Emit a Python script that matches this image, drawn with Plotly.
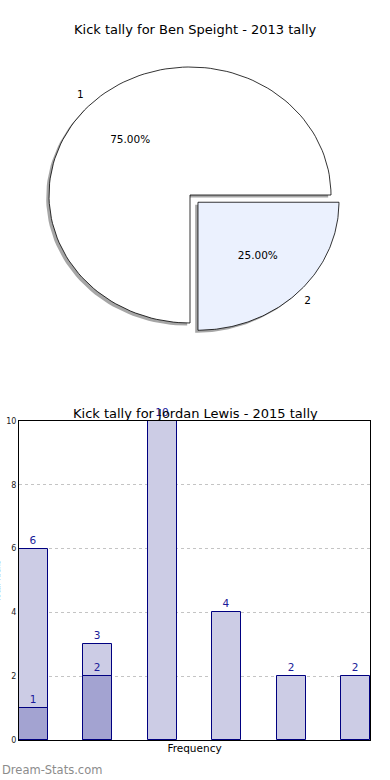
import numpy as np
import plotly.graph_objects as go

# ---- data ----
pie_title = "Kick tally for Ben Speight - 2013 tally"
pie_labels = ["1", "2"]
pie_values = [3, 1]
pie_colors = ["#FFFFFF", "#EBF1FE"]
pie_explode = [0.0, 0.08]

bar_title = "Kick tally for Jordan Lewis - 2015 tally"
bar_categories = [0, 1, 2, 3, 4, 5]
bar_totals = [6, 3, 10, 4, 2, 2]
bar_inner = [1, 2, None, None, None, None]
y_ticks = [0, 2, 4, 6, 8, 10]
x_title = "Frequency"
y_title = "Total Kicks"
watermark = "Dream-Stats.com"

FONT = "DejaVu Sans"
NAVY = "#000080"

fig = go.Figure()

# ---- pie drawn on its own axes (elliptical as in the reference) ----
total = float(sum(pie_values))
fracs = [v / total for v in pie_values]
start = 0.0
slices = []
for lab, fr, col, ex in zip(pie_labels, fracs, pie_colors, pie_explode):
    t0, t1 = start * 2 * np.pi, (start + fr) * 2 * np.pi
    mid = (t0 + t1) / 2
    cx, cy = ex * np.cos(mid), ex * np.sin(mid)
    th = np.linspace(t0, t1, 120)
    xs = np.concatenate([[cx], cx + np.cos(th), [cx]])
    ys = np.concatenate([[cy], cy + np.sin(th), [cy]])
    slices.append((lab, fr, col, cx, cy, mid, xs, ys))
    start += fr

# shadows
for lab, fr, col, cx, cy, mid, xs, ys in slices:
    fig.add_trace(go.Scatter(x=xs - 0.02, y=ys - 0.02, mode="lines", fill="toself",
                             fillcolor="rgba(77,77,77,0.5)", line=dict(width=0),
                             xaxis="x", yaxis="y", hoverinfo="skip", showlegend=False))
# slices
for lab, fr, col, cx, cy, mid, xs, ys in slices:
    fig.add_trace(go.Scatter(x=xs, y=ys, mode="lines", fill="toself", fillcolor=col,
                             line=dict(color="#000000", width=0.8),
                             xaxis="x", yaxis="y", hoverinfo="skip", showlegend=False))
# labels
for lab, fr, col, cx, cy, mid, xs, ys in slices:
    fig.add_trace(go.Scatter(
        x=[cx + 1.1 * np.cos(mid), cx + 0.6 * np.cos(mid)],
        y=[cy + 1.1 * np.sin(mid), cy + 0.6 * np.sin(mid)],
        mode="text", text=[lab, "%.2f%%" % (fr * 100)],
        textfont=dict(family=FONT, size=10.5, color="#000000"),
        xaxis="x", yaxis="y", hoverinfo="skip", showlegend=False))

# ---- bars ----
fig.add_trace(go.Bar(x=bar_categories, y=bar_totals, width=0.45,
                     marker=dict(color="#CCCCE5", line=dict(color=NAVY, width=1)),
                     text=[str(v) for v in bar_totals], textposition="outside",
                     textfont=dict(family=FONT, size=10.5, color="#1a1a99"),
                     cliponaxis=False, xaxis="x2", yaxis="y2", showlegend=False))
fig.add_trace(go.Bar(x=bar_categories, y=bar_inner, width=0.45,
                     marker=dict(color="#A3A3D1", line=dict(color=NAVY, width=1)),
                     text=[("" if v is None else str(v)) for v in bar_inner],
                     textposition="outside",
                     textfont=dict(family=FONT, size=10.5, color="#1a1a99"),
                     cliponaxis=False, xaxis="x2", yaxis="y2", showlegend=False))

W, H = 390, 780
fig.update_layout(
    template="none",
    width=W, height=H, margin=dict(l=0, r=0, t=0, b=0, pad=0, autoexpand=False),
    paper_bgcolor="white", plot_bgcolor="rgba(0,0,0,0)",
    barmode="overlay", bargap=0,
    font=dict(family=FONT, color="#000000"),
    xaxis=dict(domain=[0, 1], range=[-190 / 141, 200 / 141], visible=False,
               fixedrange=True, automargin=False),
    yaxis=dict(domain=[0.5, 1], range=[-195 / 128, 195 / 128], visible=False,
               fixedrange=True, automargin=False),
    xaxis2=dict(domain=[19 / W, 370 / W], range=[-0.225, 5.225], anchor="y2",
                showticklabels=False, ticks="", showgrid=False, zeroline=False,
                automargin=False,
                showline=True, linecolor="#000000", linewidth=1, mirror=True,
                title=dict(text=x_title, font=dict(family=FONT, size=10.5), standoff=4)),
    yaxis2=dict(domain=[40 / H, 359 / H], range=[0, 10], anchor="x2", automargin=False,
                tickvals=y_ticks, tickfont=dict(family=FONT, size=8, color="#222222"),
                ticks="", showgrid=True, gridcolor="#c4c4c4", griddash="dot", gridwidth=1,
                zeroline=False, showline=True, linecolor="#000000", linewidth=1, mirror=True),
    annotations=[
        dict(text=pie_title, x=0.5, y=1 - 30 / H, xref="paper", yref="paper",
             showarrow=False, xanchor="center", yanchor="middle",
             font=dict(family=FONT, size=13, color="#000000")),
        dict(text=bar_title, x=0.5, y=1 - 413 / H, xref="paper", yref="paper",
             showarrow=False, xanchor="center", yanchor="middle",
             font=dict(family=FONT, size=13, color="#000000")),
        dict(text=y_title, x=-3 / W, y=1 - 582 / H, xref="paper", yref="paper",
             showarrow=False, textangle=-90, xanchor="center", yanchor="middle",
             font=dict(family=FONT, size=8, color="#222222")),
        dict(text=watermark, x=0, y=1 - 770 / H, xref="paper", yref="paper",
             showarrow=False, xanchor="left", yanchor="middle",
             font=dict(family=FONT, size=11.5, color="#8c8c8c")),
    ],
)

fig.write_html("out.html", config={"displayModeBar": False},
               post_script="document.body.style.margin='0';document.body.style.overflow='hidden';")
